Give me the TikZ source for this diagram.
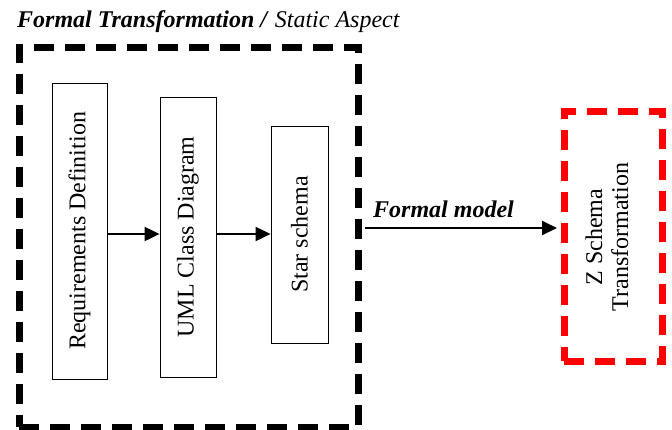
\documentclass[tikz,border=0pt]{standalone}
\usepackage{fontspec}
\setmainfont{Liberation Serif}
\usetikzlibrary{arrows.meta}
\begin{document}
\begin{tikzpicture}[x=1pt,y=-1pt,
  big/.style={font=\fontsize{24}{26}\selectfont},
  stage/.style={draw, line width=0.8pt, inner sep=0pt, rotate=90, big},
  frame/.style={draw, line width=7pt, dash pattern=on 20pt off 11pt, inner sep=0pt},
  arr/.style={line width=2pt, -{Triangle[length=15pt,width=14pt]}}]
\useasboundingbox (0,0) rectangle (672,429);

% title
\node[anchor=base west, inner sep=0pt, big] (title) at (17,27)
  {\textbf{\textit{Formal Transformation /}} \textit{Static Aspect}};

% outer dashed frame of the static aspect
\node[frame, minimum width=339pt, minimum height=380pt] (outer) at (188.5,237) {};

% the three stages (rotated: width is the vertical extent)
\node[stage, minimum width=296pt, minimum height=55pt] (req) at (79.5,231) {Requirements Definition};
\node[stage, minimum width=280pt, minimum height=56pt] (uml) at (188,237) {UML Class Diagram};
\node[stage, minimum width=217pt, minimum height=57pt] (star) at (299.5,234.5) {Star schema};

% Z schema box
\node[frame, draw=red, minimum width=98pt, minimum height=250pt] (zbox) at (613,236) {};
\node[rotate=90, align=center, big, inner sep=0pt] (ztext) at (607,237)
  {Z Schema\\Transformation};

% connectors
\coordinate (lvl) at (0,234);
\draw[arr] (req.south |- lvl) -- (uml.north |- lvl);
\draw[arr] (uml.south |- lvl) -- (star.north |- lvl);
\coordinate (fm) at (0,228);
\draw[arr] ([xshift=3.5pt]outer.east |- fm) -- node[above=10pt, xshift=-17.5pt, inner sep=0pt, text depth=0pt, big, font=\fontsize{24}{26}\selectfont\bfseries\itshape] {Formal model} ([xshift=-3.5pt]zbox.west |- fm);
\end{tikzpicture}
\end{document}
